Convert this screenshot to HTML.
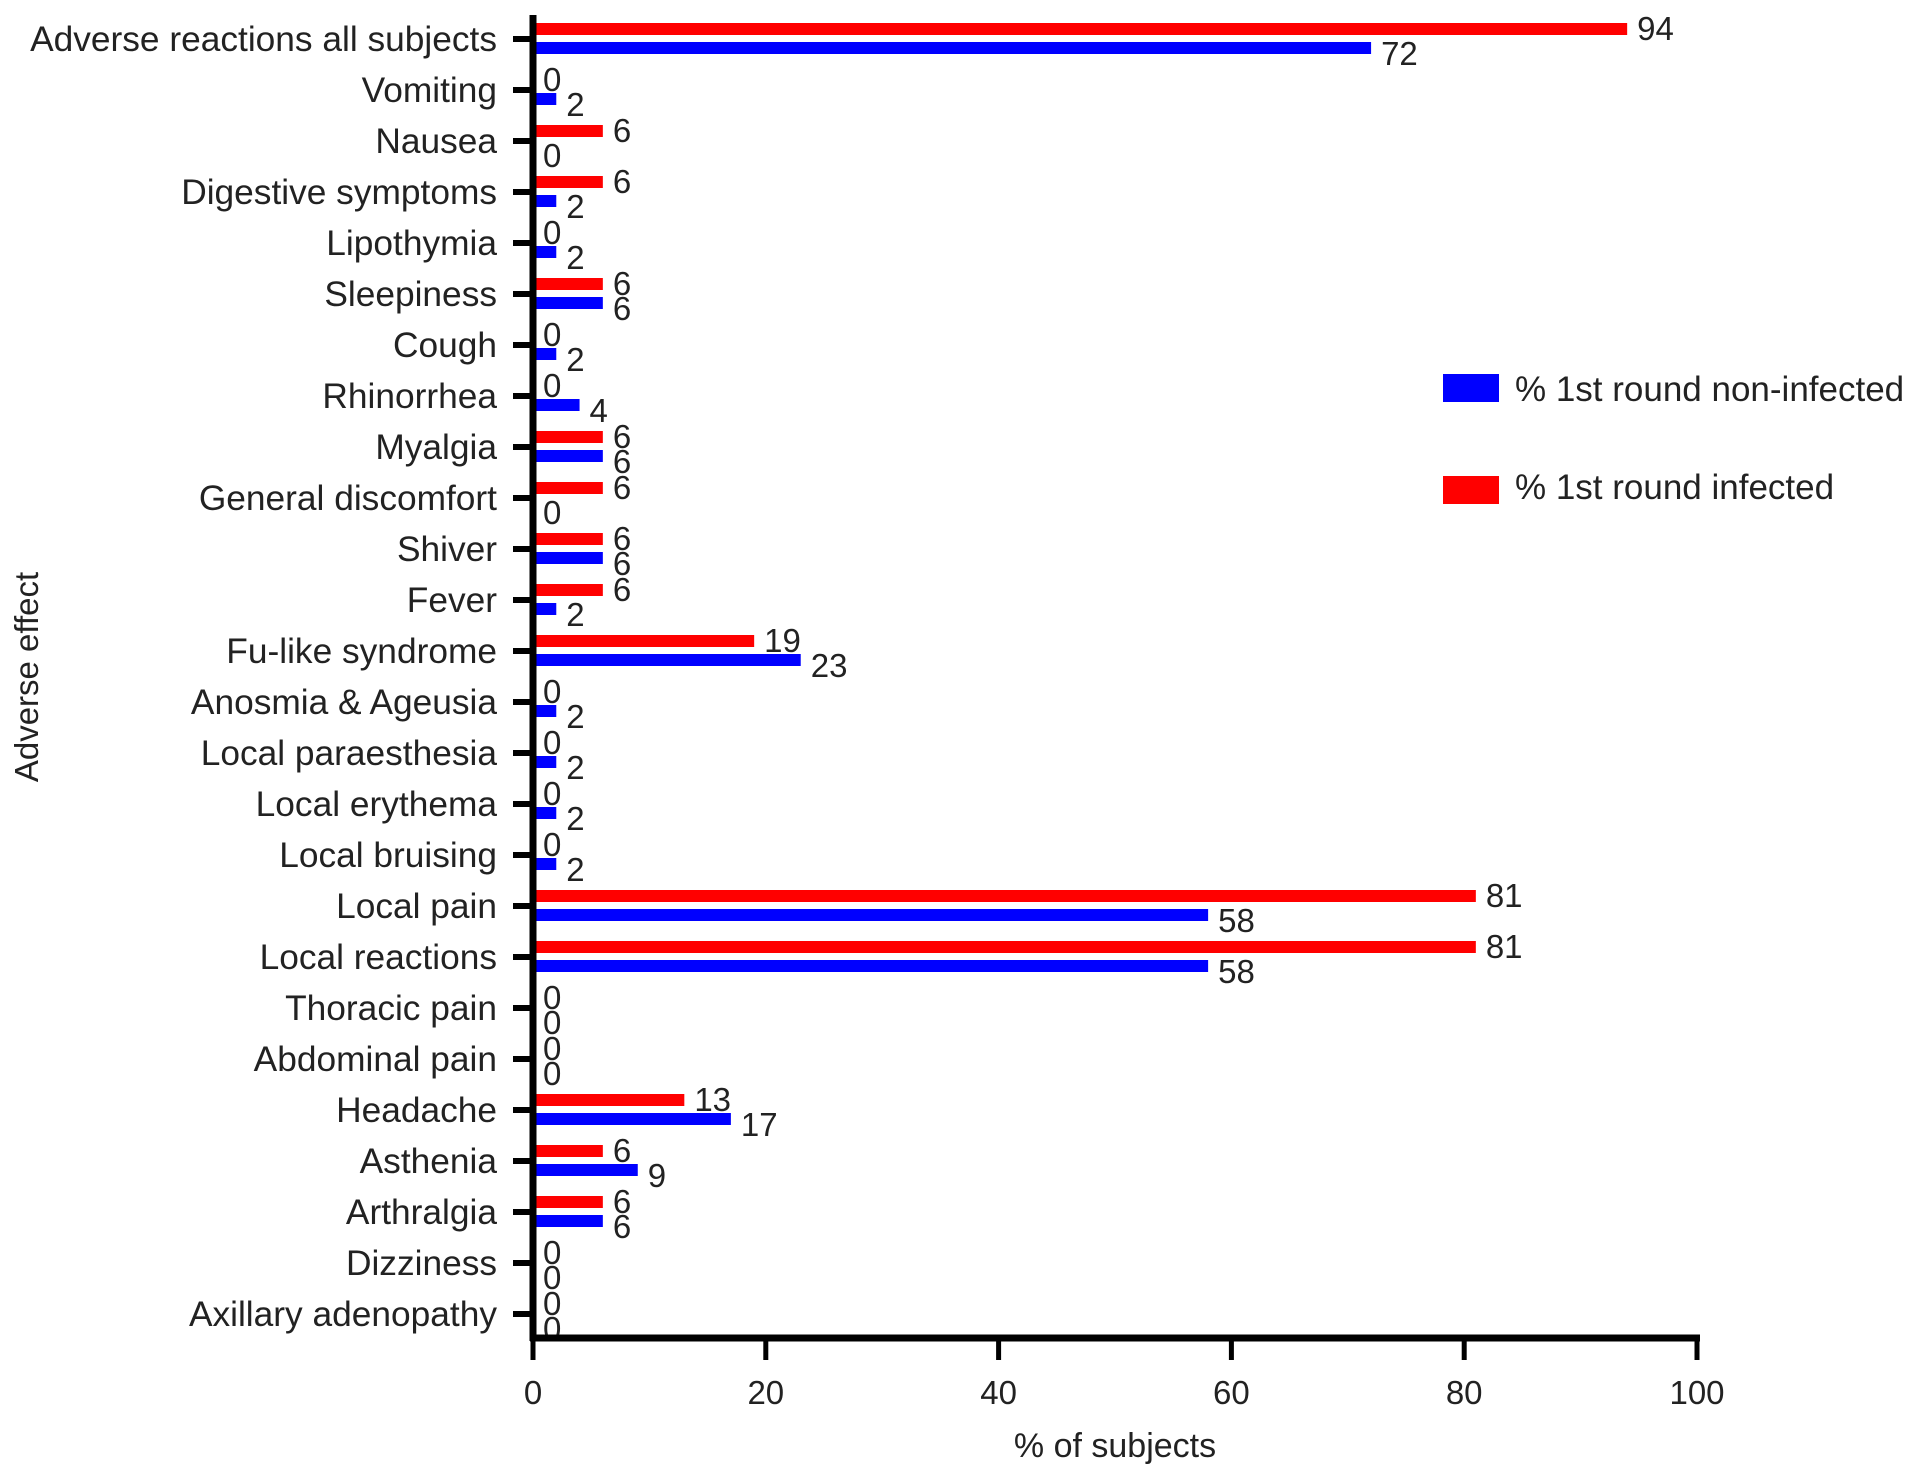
<!DOCTYPE html>
<html><head><meta charset="utf-8"><style>
html,body{margin:0;padding:0;background:#fff;}
svg{display:block;font-family:"Liberation Sans",Arial,sans-serif;}
</style></head><body>
<svg id="chart" width="1913" height="1476" viewBox="0 0 1913 1476"></svg>
<script>
const categories=["Adverse reactions all subjects","Vomiting","Nausea","Digestive symptoms","Lipothymia","Sleepiness","Cough","Rhinorrhea","Myalgia","General discomfort","Shiver","Fever","Fu-like syndrome","Anosmia & Ageusia","Local paraesthesia","Local erythema","Local bruising","Local pain","Local reactions","Thoracic pain","Abdominal pain","Headache","Asthenia","Arthralgia","Dizziness","Axillary adenopathy"];
const infected=[94,0,6,6,0,6,0,0,6,6,6,6,19,0,0,0,0,81,81,0,0,13,6,6,0,0];
const nonInfected=[72,2,0,2,2,6,2,4,6,0,6,2,23,2,2,2,2,58,58,0,0,17,9,6,0,0];
const xTicks=[0,20,40,60,80,100];

const NS="http://www.w3.org/2000/svg";
const svg=document.getElementById('chart');
const X0=533,X1=1697,Ytop=15,Yaxis=1338,C0=39,Cn=1314;
const n=categories.length;
const step=(Cn-C0)/(n-1);
function xs(v){return X0+(X1-X0)*v/100;}
function yc(i){return C0+step*i;}
function mk(tag,attrs,txt){const e=document.createElementNS(NS,tag);for(const k in attrs)e.setAttribute(k,attrs[k]);if(txt!==undefined)e.textContent=txt;svg.appendChild(e);return e;}

for(let i=0;i<n;i++){
  const y=yc(i);
  let e=mk('rect',{x:X0,y:y-16,width:Math.max(0,xs(infected[i])-X0),height:12,fill:'#ff0000'});
  
  
  e=mk('rect',{x:X0,y:y+3,width:Math.max(0,xs(nonInfected[i])-X0),height:12,fill:'#0000ff'});
  
  
  e=mk('text',{x:xs(infected[i])+10,y:y+1,'font-size':33,fill:'#222'},String(infected[i]));
  
  
  e=mk('text',{x:xs(nonInfected[i])+10,y:y+26,'font-size':33,fill:'#222'},String(nonInfected[i]));
  
  
  e=mk('line',{x1:X0-20,x2:X0,y1:y,y2:y,stroke:'#000','stroke-width':6});
  
  
  e=mk('text',{x:497,y:y+12,'font-size':35.3,'text-anchor':'end',fill:'#222'},categories[i]);
  
  
}
let a=mk('line',{x1:X0,x2:X0,y1:Ytop,y2:Yaxis+3,stroke:'#000','stroke-width':7});


a=mk('line',{x1:X0-3,x2:X1+3,y1:Yaxis,y2:Yaxis,stroke:'#000','stroke-width':7});


xTicks.forEach(t=>{
  let e=mk('line',{x1:xs(t),x2:xs(t),y1:Yaxis,y2:Yaxis+22,stroke:'#000','stroke-width':5});
  
  
  e=mk('text',{x:xs(t),y:1404,'font-size':33,'text-anchor':'middle',fill:'#222'},String(t));
  
  
});
a=mk('text',{x:(X0+X1)/2,y:1457,'font-size':34,'text-anchor':'middle',fill:'#222'},'% of subjects');


a=mk('text',{x:0,y:0,'font-size':33,'text-anchor':'middle',fill:'#222',transform:'translate(38,677) rotate(-90)'},'Adverse effect');


a=mk('rect',{x:1443,y:374,width:56,height:28,fill:'#0000ff'});


a=mk('text',{x:1515,y:401,'font-size':35,fill:'#222'},'% 1st round non-infected');


a=mk('rect',{x:1443,y:476,width:56,height:28,fill:'#ff0000'});


a=mk('text',{x:1515,y:499,'font-size':35,fill:'#222'},'% 1st round infected');


</script>
</body></html>
